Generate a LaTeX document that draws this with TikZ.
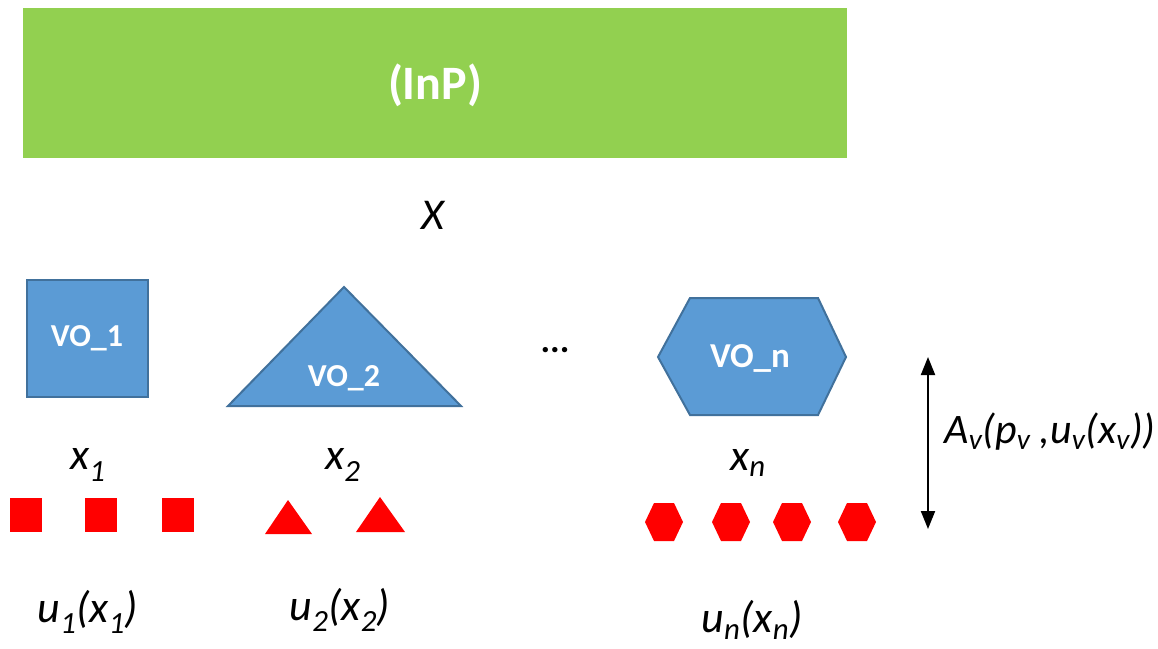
\documentclass[tikz,border=0pt]{standalone}
\usepackage{fontspec}
\setmainfont{Carlito}
\usetikzlibrary{arrows.meta}
\definecolor{inpgreen}{HTML}{92D050}
\definecolor{voblue}{HTML}{5B9BD5}
\definecolor{voedge}{HTML}{41719C}
\definecolor{unitred}{HTML}{FF0000}

\begin{document}
\begin{tikzpicture}[x=1pt,y=-1pt,line width=1pt,
  vo/.style={fill=voblue,draw=voedge,line width=2pt},
  votext/.style={text=white,inner sep=0pt,font=\fontsize{32}{38}\selectfont\bfseries},
  var/.style={inner sep=0pt,font=\fontsize{44}{52}\selectfont\itshape}]
\path[use as bounding box] (0,0) rectangle (1158,648);
% infrastructure provider
\fill[inpgreen] (23,8) rectangle (847,158);
\node[text=white,inner sep=0pt,font=\fontsize{48}{56}\selectfont\bfseries] (inp) at (435,85) {(InP)};
\node[var] (xall) at (433,215) {X};
% virtual operators
\draw[vo] (27,280) rectangle (148,397);
\node[votext] (vo1) at (87,338) {VO\_1};
\draw[vo] (344,287) -- (461,406) -- (228,406) -- cycle;
\node[votext] (vo2) at (344,378) {VO\_2};
\node[inner sep=0pt,font=\fontsize{36}{40}\selectfont\bfseries] (dots) at (555,350) {...};
\draw[vo] (690,298) -- (818,298) -- (846,357) -- (818,415) -- (690,415) -- (658,357) -- cycle;
\node[votext,font=\fontsize{35}{40}\selectfont\bfseries] (von) at (750,358) {VO\_n};
% allocations
\node[var] (x1) at (88,465) {x\textsubscript{1}};
\node[var] (x2) at (343,465) {x\textsubscript{2}};
\node[var] (xn) at (748,463) {x\textsubscript{n}};
% users
\foreach \sx in {10,85,162} \fill[unitred] (\sx,498) rectangle ++(32,34);
\fill[unitred] (288,500) -- (312,534) -- (265,534) -- cycle;
\fill[unitred] (380,497) -- (405,532) -- (356,532) -- cycle;
\foreach \cx in {664,731,792,857}
  \fill[unitred] (\cx-19,522) -- (\cx-10,503) -- (\cx+10,503) -- (\cx+19,522) -- (\cx+10,541) -- (\cx-10,541) -- cycle;
\node[var] (u1) at (88,612) {u\textsubscript{1}(x\textsubscript{1})};
\node[var] (u2) at (340,610) {u\textsubscript{2}(x\textsubscript{2})};
\node[var] (un) at (752,620) {u\textsubscript{n}(x\textsubscript{n})};
% valuation
\coordinate (atop) at (928,357);
\coordinate (abot) at (928,529);
\draw[line width=2pt,{Triangle[width=14pt,length=18pt]}-{Triangle[width=14pt,length=18pt]}] (atop) -- (abot);
\node[var,anchor=west,font=\fontsize{42}{50}\selectfont\itshape] (aval) at (944,432) {A\textsubscript{v}(p\textsubscript{v} ,u\textsubscript{v}(x\textsubscript{v}))};
\end{tikzpicture}
\end{document}
